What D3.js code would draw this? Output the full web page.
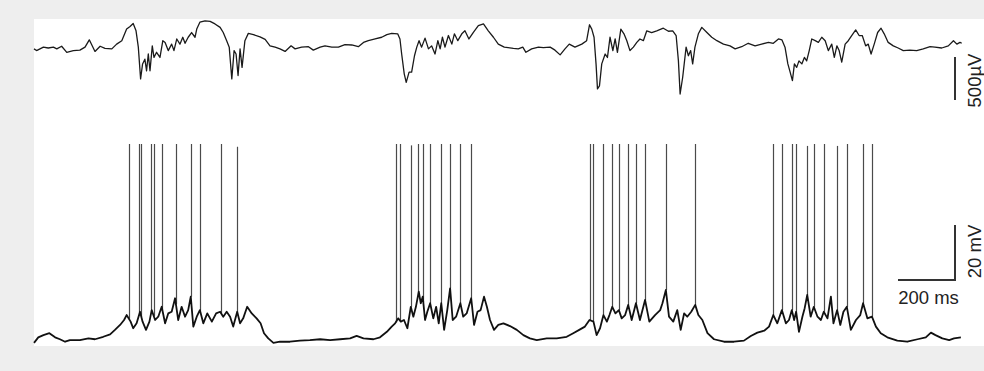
<!DOCTYPE html>
<html>
<head>
<meta charset="utf-8">
<script src="https://cdn.jsdelivr.net/npm/d3@7"></script>
<style>
  html, body { margin: 0; padding: 0; background: #eeeeee; }
  svg { display: block; }
</style>
</head>
<body>
<div id="chart"></div>
<script>
// Top: extracellular field potential (µV). Bottom: intracellular membrane potential (mV).
// Time in ms.
const lfpTrace = [
  [0,-10],[9,-30],[33,10],[50,0],[68,10],[80,-10],[97,20],[115,-50],[138,-30],[161,-25],[179,10],[194,95],
  [214,-40],[232,20],[249,-5],[273,-10],[290,45],[308,85],[325,220],[337,250],[348,285],[358,200],[366,10],
  [374,-360],[381,-185],[389,-130],[395,-265],[401,-70],[407,-265],[415,25],[421,-110],[430,-50],[442,-110],
  [452,85],[460,65],[471,-30],[483,45],[491,-30],[501,105],[512,45],[522,125],[530,55],[541,125],[553,180],
  [565,125],[571,220],[582,300],[600,315],[618,310],[635,280],[653,240],[664,180],[676,85],[685,10],[694,-360],
  [702,-30],[709,-70],[716,-320],[723,-10],[730,-225],[740,85],[752,170],[770,155],[793,130],[811,100],[828,25],
  [846,10],[863,-10],[881,-40],[902,25],[916,-10],[939,10],[963,15],[980,-25],[1004,10],[1021,25],[1045,10],
  [1068,10],[1091,40],[1115,35],[1138,15],[1156,65],[1173,85],[1197,105],[1220,125],[1238,155],[1255,170],
  [1276,165],[1284,105],[1290,-70],[1299,-300],[1306,-400],[1316,-280],[1325,-280],[1335,-90],[1343,10],
  [1351,85],[1360,10],[1372,115],[1384,-10],[1395,25],[1407,-70],[1417,85],[1425,-10],[1433,125],[1442,10],
  [1454,145],[1466,45],[1475,165],[1487,85],[1501,165],[1512,200],[1526,105],[1541,180],[1559,260],[1577,280],
  [1594,200],[1612,125],[1629,45],[1650,10],[1682,-5],[1699,-10],[1715,10],[1726,-50],[1746,-10],[1770,10],
  [1787,5],[1811,10],[1828,-25],[1846,-80],[1863,-10],[1878,45],[1898,10],[1922,45],[1939,85],[1949,270],
  [1957,220],[1965,125],[1972,-185],[1977,-475],[1984,-440],[1992,-185],[2004,-70],[2012,-110],[2021,125],
  [2031,-30],[2039,105],[2047,-50],[2059,220],[2070,165],[2080,85],[2091,-30],[2103,10],[2115,65],[2126,105],
  [2138,85],[2150,200],[2167,180],[2185,200],[2208,230],[2226,195],[2241,200],[2253,145],[2261,-150],
  [2267,-535],[2276,-340],[2288,10],[2296,-90],[2304,-30],[2311,-185],[2319,10],[2331,165],[2343,240],
  [2361,180],[2378,125],[2396,85],[2419,45],[2442,25],[2460,-10],[2483,15],[2506,55],[2530,25],[2553,45],
  [2577,65],[2594,55],[2612,105],[2624,95],[2635,10],[2645,-185],[2653,-280],[2661,-380],[2668,-185],
  [2676,-225],[2684,-150],[2694,-185],[2703,-110],[2711,-150],[2720,-30],[2729,105],[2741,85],[2752,65],
  [2764,125],[2776,85],[2787,-30],[2799,45],[2808,-110],[2817,25],[2825,-30],[2834,-165],[2846,45],[2857,85],
  [2869,145],[2883,210],[2895,145],[2906,145],[2918,25],[2927,45],[2937,-70],[2948,45],[2960,180],[2972,230],
  [2983,165],[2997,65],[3015,25],[3032,0],[3050,-30],[3073,-25],[3097,-30],[3120,-10],[3144,15],[3161,10],
  [3185,0],[3208,25],[3226,85],[3238,45],[3249,65],[3255,55]
];

const vmTrace = [
  [0,-70.3],[15,-68.3],[33,-67.5],[54,-66.8],[74,-68.3],[91,-69.0],[109,-69.9],[126,-69.3],[161,-69.3],
  [191,-68.7],[214,-69.0],[243,-68.1],[267,-67.2],[284,-65.6],[302,-63.8],[316,-62.0],[325,-60.2],[339,-62.6],
  [348,-65.0],[360,-63.2],[372,-59.0],[381,-62.6],[393,-65.6],[405,-62.6],[413,-58.4],[425,-62.0],[436,-60.8],
  [448,-57.2],[460,-63.2],[471,-59.6],[483,-59.0],[495,-54.1],[506,-62.0],[518,-57.2],[530,-60.8],[541,-58.4],
  [550,-53.5],[559,-64.4],[571,-60.8],[582,-58.4],[594,-63.2],[608,-59.6],[624,-62.6],[639,-59.6],[653,-59.0],
  [664,-60.8],[676,-59.0],[688,-60.8],[699,-64.4],[713,-59.0],[723,-63.2],[734,-61.4],[748,-57.2],[764,-59.6],
  [781,-61.4],[795,-63.2],[807,-66.8],[822,-68.7],[840,-70.3],[863,-69.9],[898,-69.9],[933,-69.5],[968,-69.3],
  [1004,-69.0],[1039,-69.3],[1074,-69.0],[1109,-68.7],[1132,-67.8],[1156,-68.7],[1191,-69.0],[1214,-68.3],
  [1238,-66.3],[1255,-64.4],[1267,-63.2],[1278,-61.4],[1287,-62.6],[1298,-62.0],[1310,-65.0],[1322,-57.2],
  [1331,-60.8],[1340,-57.2],[1350,-51.7],[1357,-55.9],[1364,-53.5],[1372,-62.0],[1380,-59.0],[1390,-55.9],
  [1401,-61.4],[1411,-57.2],[1420,-63.2],[1429,-55.9],[1439,-65.6],[1450,-58.4],[1460,-50.5],[1469,-62.0],
  [1481,-60.8],[1496,-55.9],[1506,-60.8],[1518,-59.6],[1534,-54.1],[1544,-63.8],[1556,-59.0],[1567,-58.4],
  [1579,-53.5],[1589,-57.2],[1600,-62.0],[1614,-65.6],[1629,-63.8],[1647,-63.2],[1670,-64.2],[1694,-65.6],
  [1717,-67.5],[1740,-68.7],[1764,-69.3],[1799,-68.7],[1834,-68.7],[1869,-68.1],[1892,-66.8],[1916,-65.4],
  [1933,-64.4],[1949,-62.0],[1963,-62.6],[1974,-67.5],[1986,-65.0],[1998,-60.2],[2010,-62.6],[2019,-60.2],
  [2029,-57.2],[2040,-59.6],[2052,-58.4],[2062,-61.4],[2074,-60.2],[2085,-56.5],[2097,-62.0],[2112,-55.9],
  [2126,-62.0],[2144,-54.7],[2159,-62.6],[2179,-60.2],[2197,-58.4],[2205,-55.9],[2217,-51.1],[2228,-60.8],
  [2243,-62.6],[2257,-58.4],[2269,-65.6],[2281,-59.6],[2292,-60.8],[2306,-59.0],[2320,-56.5],[2331,-60.2],
  [2345,-62.0],[2363,-66.8],[2386,-69.0],[2421,-69.9],[2456,-69.9],[2491,-69.5],[2515,-67.8],[2538,-66.6],
  [2562,-65.9],[2579,-64.4],[2594,-60.2],[2608,-63.2],[2624,-58.4],[2638,-63.2],[2649,-62.0],[2659,-58.4],
  [2667,-62.0],[2674,-59.0],[2684,-66.3],[2696,-60.8],[2704,-57.7],[2713,-52.9],[2725,-60.8],[2736,-57.2],
  [2749,-60.8],[2761,-62.0],[2771,-59.0],[2784,-61.4],[2796,-53.5],[2805,-63.2],[2818,-58.4],[2829,-63.8],
  [2840,-59.0],[2852,-57.2],[2866,-65.6],[2884,-62.0],[2899,-60.2],[2909,-55.9],[2924,-61.4],[2940,-60.8],
  [2954,-64.4],[2971,-66.8],[2994,-68.3],[3029,-69.5],[3064,-69.9],[3100,-69.0],[3129,-68.3],[3147,-66.6],
  [3163,-67.5],[3187,-68.7],[3211,-69.3],[3228,-68.7],[3252,-68.3]
];

// action potentials: time (ms) and peak (mV)
const spikeTimes = [
  333,368,377,412,420,450,498,550,581,657,713,
  1269,1284,1322,1347,1366,1390,1429,1460,1496,1534,
  1950,1962,1998,2029,2052,2085,2112,2144,2217,2320,
  2594,2624,2659,2674,2713,2736,2771,2818,2852,2909,2940
];
const spikePeaks = [
  2,2,2,2,2,2,2,2,2,2,1,
  2,2,1.5,2,2,2,2,2,2,2,
  2,2,2,2,2,2,2,2,2,2,
  2,2,2,2,1.3,2,2,1.3,2,2,2
];

const scaleBars = { lfp: 500, vm: 20, time: 200 };
const scaleLabels = { lfp: "500µV", vm: "20 mV", time: "200 ms" };

const W = 984, H = 371;
const PANEL = { x: 34, y: 19, w: 950, h: 327 };

const svg = d3.select("#chart").append("svg").attr("width", W).attr("height", H);

svg.append("rect").attr("x", PANEL.x).attr("y", PANEL.y)
  .attr("width", PANEL.w).attr("height", PANEL.h).attr("fill", "#ffffff");

const x = d3.scaleLinear().domain([0, 3256]).range([34, 962]);
const yLfp = d3.scaleLinear().domain([0, 500]).range([48, 5]);
const yVm = d3.scaleLinear().domain([-70, 2]).range([342, 144]);

const lfpLine = d3.line().x(d => x(d[0])).y(d => yLfp(d[1]));
const vmLine = d3.line().x(d => x(d[0])).y(d => yVm(d[1]));

svg.append("path").datum(lfpTrace).attr("d", lfpLine)
  .attr("fill", "none").attr("stroke", "#1a1a1a").attr("stroke-width", 1.3)
  .attr("stroke-linejoin", "round");

// spikes: vertical stroke from the membrane trace up to the peak
const vmAt = t => {
  const i = d3.bisector(d => d[0]).left(vmTrace, t);
  if (i <= 0) return vmTrace[0][1];
  if (i >= vmTrace.length) return vmTrace[vmTrace.length - 1][1];
  const a = vmTrace[i - 1], b = vmTrace[i];
  return a[1] + (b[1] - a[1]) * (t - a[0]) / (b[0] - a[0]);
};
svg.append("g").selectAll("line").data(spikeTimes).join("line")
  .attr("x1", t => Math.round(x(t)) + 0.5).attr("x2", t => Math.round(x(t)) + 0.5)
  .attr("y1", t => yVm(vmAt(t))).attr("y2", (t, i) => yVm(spikePeaks[i]))
  .attr("stroke", "#4a4a4a").attr("stroke-width", 1.2);

svg.append("path").datum(vmTrace).attr("d", vmLine)
  .attr("fill", "none").attr("stroke", "#111").attr("stroke-width", 1.8)
  .attr("stroke-linejoin", "round");

// scale bars
const barColor = "#333";
const bx = 955;
const lfpLen = yLfp(0) - yLfp(scaleBars.lfp);
svg.append("line").attr("x1", bx).attr("x2", bx).attr("y1", 57).attr("y2", 57 + lfpLen)
  .attr("stroke", barColor).attr("stroke-width", 2);

const cornerY = 280;
const vmLen = yVm(0) - yVm(scaleBars.vm);
const tLen = x(scaleBars.time) - x(0);
svg.append("path")
  .attr("d", `M${bx},${cornerY - vmLen}V${cornerY}H${bx - tLen}`)
  .attr("fill", "none").attr("stroke", barColor).attr("stroke-width", 2);

const font = "'Liberation Sans', Arial, Helvetica, sans-serif";
svg.append("text").attr("transform", `translate(981, ${57 + lfpLen / 2 + 2}) rotate(-90)`)
  .attr("text-anchor", "middle").attr("font-family", font).attr("font-size", 18.5)
  .attr("fill", "#222").text(scaleLabels.lfp);
svg.append("text").attr("transform", `translate(981, ${cornerY - vmLen / 2 - 1}) rotate(-90)`)
  .attr("text-anchor", "middle").attr("font-family", font).attr("font-size", 18.5)
  .attr("fill", "#222").text(scaleLabels.vm);
svg.append("text").attr("x", bx - tLen / 2 + 2).attr("y", 304)
  .attr("text-anchor", "middle").attr("font-family", font).attr("font-size", 18.5)
  .attr("fill", "#222").text(scaleLabels.time);
</script>
</body>
</html>
